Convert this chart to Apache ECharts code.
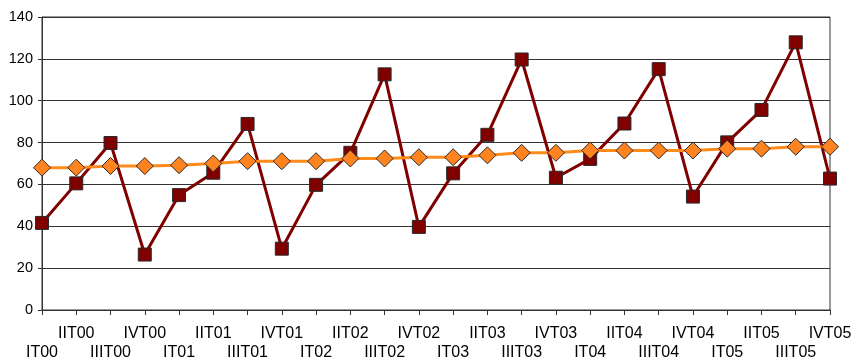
<!DOCTYPE html>
<html>
<head>
<meta charset="utf-8">
<script src="https://cdn.jsdelivr.net/npm/echarts@6/dist/echarts.min.js"></script>
<style>
html,body{margin:0;padding:0;background:#fff;}
#c{width:855px;height:362px;}
</style>
</head>
<body>
<div id="c"></div>
<script>
var categories = ['IT00','IIT00','IIIT00','IVT00','IT01','IIT01','IIIT01','IVT01',
  'IT02','IIT02','IIIT02','IVT02','IT03','IIT03','IIIT03','IVT03',
  'IT04','IIT04','IIIT04','IVT04','IT05','IIT05','IIIT05','IVT05'];
var seriesRed = [41.6,60.5,79.8,26.5,54.9,65.6,88.9,29.3,
  59.8,75.1,112.6,39.7,65.3,83.7,119.7,63.2,
  72.2,89.1,115.1,54.2,80.1,95.6,127.9,62.8];
var seriesOrange = [68.0,68.0,68.8,68.8,69.2,70.0,71.1,71.1,
  71.1,72.4,72.4,73.0,73.0,73.9,75.1,75.1,
  76.2,76.2,76.2,76.2,77.1,77.1,78.0,78.0];
var yTicks = {min:0, max:140, interval:20};

var chart = echarts.init(document.getElementById('c'), null, {renderer:'canvas'});
chart.setOption({
  animation:false,
  backgroundColor:'#ffffff',
  grid:{left:42, right:25, top:17, bottom:50, containLabel:false,
        show:true, borderColor:'#333333', borderWidth:1},
  xAxis:{
    type:'category', data:categories, boundaryGap:false,
    axisLine:{lineStyle:{color:'#333333', width:1}},
    axisTick:{show:true, alignWithLabel:true, interval:0, length:5, lineStyle:{color:'#333333'}},
    axisLabel:{interval:0, margin:14, fontSize:16, lineHeight:19,
      fontFamily:'Liberation Sans, Arial, sans-serif', color:'#000',
      formatter:function(v, i){ return i % 2 === 0 ? '\n' + v : v; }},
    splitLine:{show:false}
  },
  yAxis:{
    type:'value', min:yTicks.min, max:yTicks.max, interval:yTicks.interval,
    axisLine:{show:true, lineStyle:{color:'#333333', width:1}},
    axisTick:{show:true, length:4, lineStyle:{color:'#333333'}},
    axisLabel:{fontSize:14.5, margin:9, fontFamily:'Liberation Sans, Arial, sans-serif', color:'#000'},
    splitLine:{show:true, lineStyle:{color:'#333333', width:1}}
  },
  series:[
    {type:'line', data:seriesRed, symbol:'rect', symbolSize:13,
     lineStyle:{color:'#800000', width:3},
     itemStyle:{color:'#800000', borderColor:'#2a2a2a', borderWidth:1},
     z:2},
    {type:'line', data:seriesOrange, symbol:'diamond', symbolSize:17,
     lineStyle:{color:'#ff8c1a', width:3},
     itemStyle:{color:'#ff8420', borderColor:'#2a2a2a', borderWidth:1},
     z:3}
  ]
});
</script>
</body>
</html>
